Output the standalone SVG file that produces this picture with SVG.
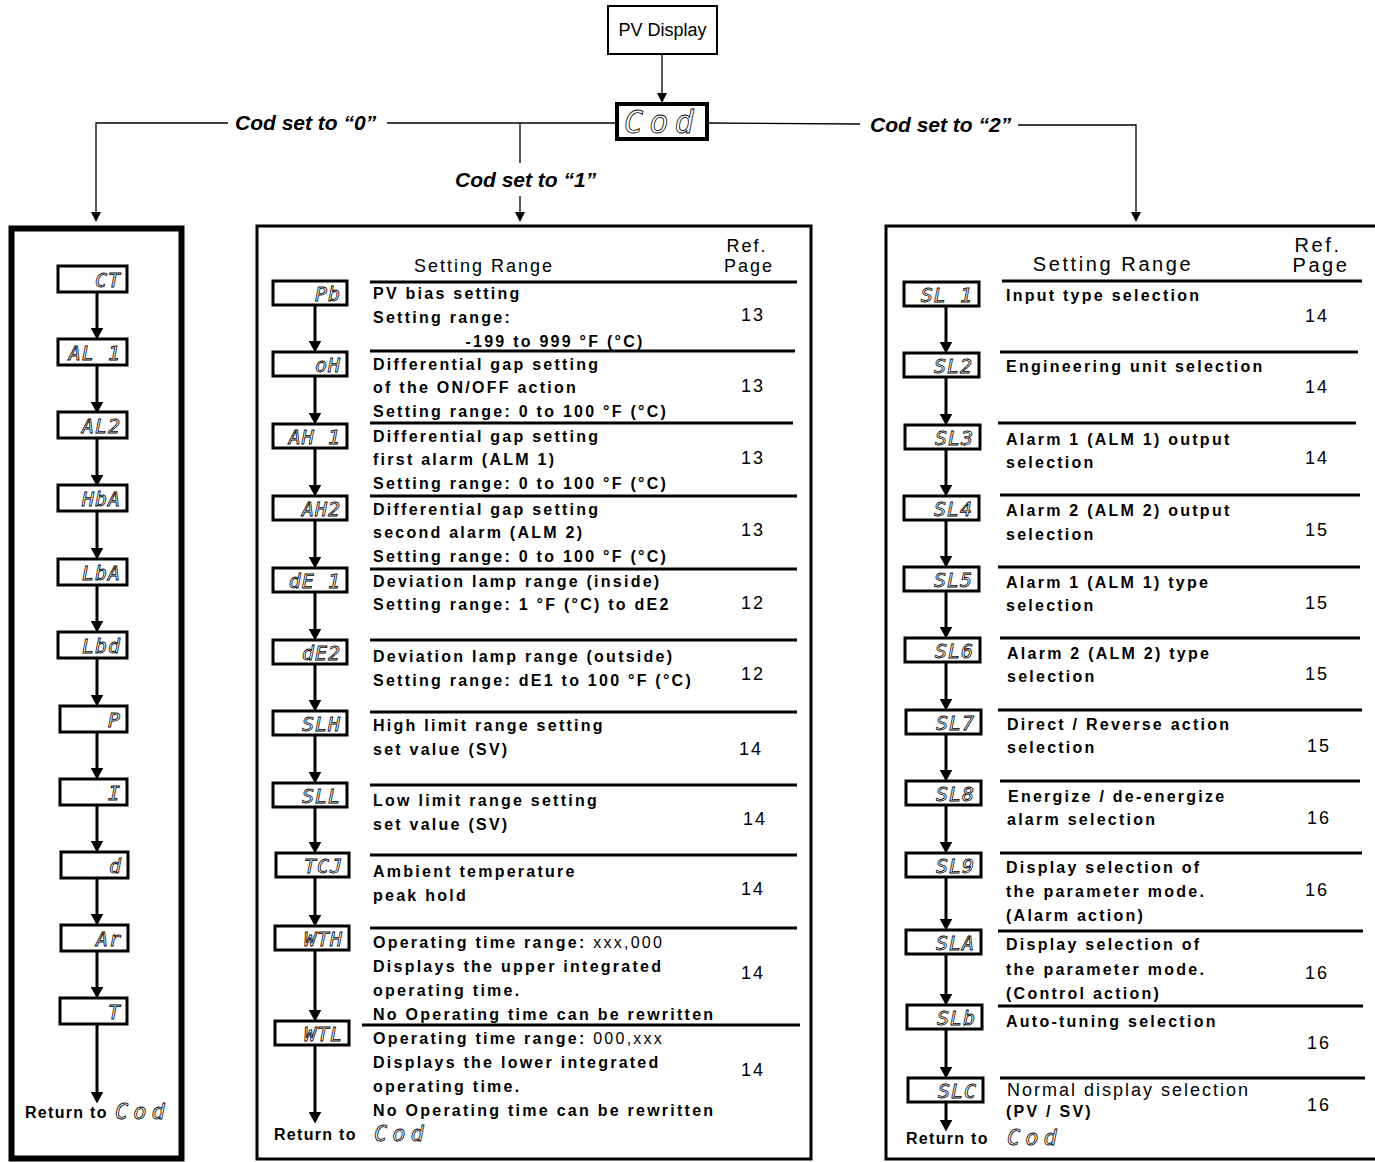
<svg xmlns="http://www.w3.org/2000/svg" width="1375" height="1162" viewBox="0 0 1375 1162">
<style>
.t{font-family:"Liberation Sans",Arial,sans-serif;font-weight:bold;font-size:16px;letter-spacing:2.25px;fill:#000}
.r{font-weight:normal}
.n{font-family:"Liberation Sans",Arial,sans-serif;font-size:18px;letter-spacing:2px;fill:#000}
.h{font-family:"Liberation Sans",Arial,sans-serif;font-size:18px;letter-spacing:2px;fill:#000}
.h2{font-family:"Liberation Sans",Arial,sans-serif;font-size:20px;letter-spacing:2.6px;fill:#000}
.lab{font-family:"Liberation Sans",Arial,sans-serif;font-weight:bold;font-style:italic;font-size:21px;fill:#000}
.seg{font-family:"DejaVu Sans Mono",monospace;font-style:oblique;font-size:20px;letter-spacing:1px;fill:#fff;stroke:#000;stroke-width:0.8;text-anchor:end}
.cod{font-family:"DejaVu Sans Mono",monospace;font-style:oblique;font-size:22px;letter-spacing:5px;fill:#fff;stroke:#000;stroke-width:0.8}
.box{fill:#fff;stroke:#000;stroke-width:3}
.panel{fill:none;stroke:#000;stroke-width:3}
.sep{stroke:#000;stroke-width:3}
.thin{fill:none;stroke:#000;stroke-width:1.3}
.thick{fill:none;stroke:#000;stroke-width:3}
</style>
<defs>
<marker id="ahT" viewBox="0 0 10 10" refX="2" refY="5" markerWidth="12" markerHeight="13" orient="auto" markerUnits="userSpaceOnUse" preserveAspectRatio="none"><path d="M0,0 L10,5 L0,10 z" fill="#000"/></marker>
<marker id="aht" viewBox="0 0 10 10" refX="2" refY="5" markerWidth="10" markerHeight="10" orient="auto" markerUnits="userSpaceOnUse" preserveAspectRatio="none"><path d="M0,0 L10,5 L0,10 z" fill="#000"/></marker>
</defs>
<rect width="1375" height="1162" fill="#fff"/>

<!-- top nodes -->
<g id="pv-display">
<rect x="608" y="6" width="109" height="48" fill="#fff" stroke="#000" stroke-width="2"/>
<text x="662.5" y="36" text-anchor="middle" font-family="Liberation Sans, Arial, sans-serif" font-size="18">PV Display</text>
</g>
<g id="cod">
<rect x="617" y="104" width="90" height="35" fill="#fff" stroke="#000" stroke-width="4"/>
<text class="cod" x="624" y="133" style="font-size:32px;letter-spacing:6px">Cod</text>
</g>

<!-- connectors -->
<g id="connectors">
<line class="thin" x1="662" y1="54" x2="662" y2="95" marker-end="url(#aht)"/>
<line class="thin" x1="617" y1="123" x2="387" y2="123"/>
<polyline class="thin" points="228,123 96,123 96,214" marker-end="url(#aht)"/>
<line class="thin" x1="520" y1="123" x2="520" y2="163"/>
<line class="thin" x1="520" y1="196" x2="520" y2="214" marker-end="url(#aht)"/>
<line class="thin" x1="707" y1="123" x2="860" y2="124"/>
<polyline class="thin" points="1018,125 1136,125 1136,214" marker-end="url(#aht)"/>
<g id="left-arrows">
<line class="thick" x1="97" y1="292" x2="97" y2="330" marker-end="url(#ahT)"/>
<line class="thick" x1="97" y1="365" x2="97" y2="404" marker-end="url(#ahT)"/>
<line class="thick" x1="97" y1="438" x2="97" y2="477" marker-end="url(#ahT)"/>
<line class="thick" x1="97" y1="511" x2="97" y2="550" marker-end="url(#ahT)"/>
<line class="thick" x1="97" y1="585" x2="97" y2="623" marker-end="url(#ahT)"/>
<line class="thick" x1="97" y1="658" x2="97" y2="697" marker-end="url(#ahT)"/>
<line class="thick" x1="97" y1="732" x2="97" y2="770" marker-end="url(#ahT)"/>
<line class="thick" x1="97" y1="805" x2="97" y2="843" marker-end="url(#ahT)"/>
<line class="thick" x1="97" y1="878" x2="97" y2="916" marker-end="url(#ahT)"/>
<line class="thick" x1="97" y1="951" x2="97" y2="989" marker-end="url(#ahT)"/>
<line class="thick" x1="97" y1="1024" x2="97" y2="1094" marker-end="url(#ahT)"/>
</g>
<g id="mid-arrows">
<line class="thick" x1="315" y1="305" x2="315" y2="343" marker-end="url(#ahT)"/>
<line class="thick" x1="315" y1="376" x2="315" y2="415" marker-end="url(#ahT)"/>
<line class="thick" x1="315" y1="448" x2="315" y2="487" marker-end="url(#ahT)"/>
<line class="thick" x1="315" y1="520" x2="315" y2="559" marker-end="url(#ahT)"/>
<line class="thick" x1="315" y1="592" x2="315" y2="631" marker-end="url(#ahT)"/>
<line class="thick" x1="315" y1="664" x2="315" y2="702" marker-end="url(#ahT)"/>
<line class="thick" x1="315" y1="735" x2="315" y2="774" marker-end="url(#ahT)"/>
<line class="thick" x1="315" y1="807" x2="315" y2="844" marker-end="url(#ahT)"/>
<line class="thick" x1="315" y1="877" x2="315" y2="917" marker-end="url(#ahT)"/>
<line class="thick" x1="315" y1="950" x2="315" y2="1012" marker-end="url(#ahT)"/>
<line class="thick" x1="315" y1="1045" x2="315" y2="1114" marker-end="url(#ahT)"/>
</g>
<g id="right-arrows">
<line class="thick" x1="946" y1="306" x2="946" y2="344" marker-end="url(#ahT)"/>
<line class="thick" x1="946" y1="377" x2="946" y2="416" marker-end="url(#ahT)"/>
<line class="thick" x1="946" y1="449" x2="946" y2="487" marker-end="url(#ahT)"/>
<line class="thick" x1="946" y1="520" x2="946" y2="558" marker-end="url(#ahT)"/>
<line class="thick" x1="946" y1="591" x2="946" y2="629" marker-end="url(#ahT)"/>
<line class="thick" x1="946" y1="662" x2="946" y2="701" marker-end="url(#ahT)"/>
<line class="thick" x1="946" y1="734" x2="946" y2="772" marker-end="url(#ahT)"/>
<line class="thick" x1="946" y1="805" x2="946" y2="844" marker-end="url(#ahT)"/>
<line class="thick" x1="946" y1="877" x2="946" y2="921" marker-end="url(#ahT)"/>
<line class="thick" x1="946" y1="954" x2="946" y2="996" marker-end="url(#ahT)"/>
<line class="thick" x1="946" y1="1029" x2="946" y2="1069" marker-end="url(#ahT)"/>
<line class="thick" x1="946" y1="1102" x2="946" y2="1122" marker-end="url(#ahT)"/>
</g>
</g>

<!-- branch labels -->
<g id="labels">
<text class="lab" x="235" y="130">Cod set to “0”</text>
<text class="lab" x="455" y="187">Cod set to “1”</text>
<text class="lab" x="870" y="132">Cod set to “2”</text>
</g>

<!-- left panel (Cod 0) -->
<g id="panel-0">
<rect x="11.5" y="228.5" width="170" height="930" fill="none" stroke="#000" stroke-width="6"/>
<g id="n-CT"><rect class="box" x="58" y="266" width="69" height="26"/><text class="seg" x="121" y="287">CT</text></g>
<g id="n-AL1"><rect class="box" x="58" y="339" width="69" height="26"/><text class="seg" x="121" y="360">AL 1</text></g>
<g id="n-AL2"><rect class="box" x="58" y="412" width="69" height="26"/><text class="seg" x="121" y="433">AL2</text></g>
<g id="n-HbA"><rect class="box" x="58" y="485" width="69" height="26"/><text class="seg" x="121" y="506">HbA</text></g>
<g id="n-LbA"><rect class="box" x="58" y="559" width="69" height="26"/><text class="seg" x="121" y="580">LbA</text></g>
<g id="n-Lbd"><rect class="box" x="58" y="632" width="69" height="26"/><text class="seg" x="121" y="653">Lbd</text></g>
<g id="n-P"><rect class="box" x="60" y="706" width="67" height="26"/><text class="seg" x="121" y="727">P</text></g>
<g id="n-I"><rect class="box" x="60" y="779" width="67" height="26"/><text class="seg" x="121" y="800">I</text></g>
<g id="n-d"><rect class="box" x="61" y="852" width="67" height="26"/><text class="seg" x="122" y="873">d</text></g>
<g id="n-Ar"><rect class="box" x="61" y="925" width="67" height="26"/><text class="seg" x="122" y="946">Ar</text></g>
<g id="n-T"><rect class="box" x="60" y="998" width="67" height="26"/><text class="seg" x="121" y="1019">T</text></g>
<g id="ret-0"><text class="t" x="25" y="1118" style="letter-spacing:1.3px">Return to</text><text class="cod" x="115" y="1119">Cod</text></g>
</g>

<!-- middle panel (Cod 1) -->
<g id="panel-1">
<rect class="panel" x="257" y="226" width="554" height="933"/>
<text class="h" x="484" y="272" text-anchor="middle">Setting Range</text>
<text class="h" x="747" y="252" text-anchor="middle">Ref.</text>
<text class="h" x="749" y="272" text-anchor="middle">Page</text>
<line class="sep" x1="370" y1="282" x2="797" y2="282"/>
<line class="sep" x1="370" y1="351" x2="795" y2="351"/>
<line class="sep" x1="370" y1="423" x2="793" y2="423"/>
<line class="sep" x1="370" y1="496" x2="797" y2="496"/>
<line class="sep" x1="370" y1="569" x2="797" y2="569"/>
<line class="sep" x1="370" y1="640" x2="797" y2="640"/>
<line class="sep" x1="370" y1="712" x2="797" y2="712"/>
<line class="sep" x1="370" y1="785" x2="797" y2="785"/>
<line class="sep" x1="370" y1="855" x2="797" y2="855"/>
<line class="sep" x1="370" y1="928" x2="797" y2="928"/>
<line class="sep" x1="362" y1="1025" x2="800" y2="1025"/>

<g id="n-Pb"><rect class="box" x="273" y="281" width="74" height="24"/><text class="seg" x="341" y="301">Pb</text>
<text class="t" x="373" y="299">PV bias setting</text><text class="t" x="373" y="323">Setting range:</text><text class="t" x="555" y="347" text-anchor="middle">-199 to 999 °F (°C)</text><text class="n" x="753" y="321" text-anchor="middle">13</text></g>
<g id="n-oH"><rect class="box" x="273" y="352" width="74" height="24"/><text class="seg" x="341" y="372">oH</text>
<text class="t" x="373" y="370">Differential gap setting</text><text class="t" x="373" y="393">of the ON/OFF action</text><text class="t" x="373" y="417">Setting range: 0 to 100 °F (°C)</text><text class="n" x="753" y="392" text-anchor="middle">13</text></g>
<g id="n-AH1"><rect class="box" x="273" y="424" width="74" height="24"/><text class="seg" x="341" y="444">AH 1</text>
<text class="t" x="373" y="442">Differential gap setting</text><text class="t" x="373" y="465">first alarm (ALM 1)</text><text class="t" x="373" y="489">Setting range: 0 to 100 °F (°C)</text><text class="n" x="753" y="464" text-anchor="middle">13</text></g>
<g id="n-AH2"><rect class="box" x="273" y="496" width="74" height="24"/><text class="seg" x="341" y="516">AH2</text>
<text class="t" x="373" y="515">Differential gap setting</text><text class="t" x="373" y="538">second alarm (ALM 2)</text><text class="t" x="373" y="562">Setting range: 0 to 100 °F (°C)</text><text class="n" x="753" y="536" text-anchor="middle">13</text></g>
<g id="n-dE1"><rect class="box" x="273" y="568" width="74" height="24"/><text class="seg" x="341" y="588">dE 1</text>
<text class="t" x="373" y="587">Deviation lamp range (inside)</text><text class="t" x="373" y="610">Setting range: 1 °F (°C) to dE2</text><text class="n" x="753" y="609" text-anchor="middle">12</text></g>
<g id="n-dE2"><rect class="box" x="273" y="640" width="74" height="24"/><text class="seg" x="341" y="660">dE2</text>
<text class="t" x="373" y="662">Deviation lamp range (outside)</text><text class="t" x="373" y="686">Setting range: dE1 to 100 °F (°C)</text><text class="n" x="753" y="680" text-anchor="middle">12</text></g>
<g id="n-SLH"><rect class="box" x="273" y="711" width="74" height="24"/><text class="seg" x="341" y="731">SLH</text>
<text class="t" x="373" y="731">High limit range setting</text><text class="t" x="373" y="755">set value (SV)</text><text class="n" x="751" y="755" text-anchor="middle">14</text></g>
<g id="n-SLL"><rect class="box" x="273" y="783" width="74" height="24"/><text class="seg" x="341" y="803">SLL</text>
<text class="t" x="373" y="806">Low limit range setting</text><text class="t" x="373" y="830">set value (SV)</text><text class="n" x="755" y="825" text-anchor="middle">14</text></g>
<g id="n-TCJ"><rect class="box" x="276" y="853" width="73" height="24"/><text class="seg" x="343" y="873">TCJ</text>
<text class="t" x="373" y="877">Ambient temperature</text><text class="t" x="373" y="901">peak hold</text><text class="n" x="753" y="895" text-anchor="middle">14</text></g>
<g id="n-WTH"><rect class="box" x="275" y="926" width="74" height="24"/><text class="seg" x="343" y="946">WTH</text>
<text class="t" x="373" y="948">Operating time range: <tspan class="r">xxx,000</tspan></text><text class="t" x="373" y="972">Displays the upper integrated</text><text class="t" x="373" y="996">operating time.</text><text class="t" x="373" y="1020">No Operating time can be rewritten</text><text class="n" x="753" y="979" text-anchor="middle">14</text></g>
<g id="n-WTL"><rect class="box" x="275" y="1021" width="74" height="24"/><text class="seg" x="343" y="1041">WTL</text>
<text class="t" x="373" y="1044">Operating time range: <tspan class="r">000,xxx</tspan></text><text class="t" x="373" y="1068">Displays the lower integrated</text><text class="t" x="373" y="1092">operating time.</text><text class="t" x="373" y="1116">No Operating time can be rewritten</text><text class="n" x="753" y="1076" text-anchor="middle">14</text></g>
<g id="ret-1"><text class="t" x="274" y="1140" style="letter-spacing:1.3px">Return to</text><text class="cod" x="374" y="1141">Cod</text></g>
</g>

<!-- right panel (Cod 2) -->
<g id="panel-2">
<rect class="panel" x="886" y="226" width="495" height="933"/>
<text class="h2" x="1113" y="271" text-anchor="middle">Setting Range</text>
<text class="h2" x="1318" y="252" text-anchor="middle">Ref.</text>
<text class="h2" x="1321" y="272" text-anchor="middle">Page</text>
<line class="sep" x1="1002" y1="281" x2="1362" y2="281"/>
<line class="sep" x1="1000" y1="352" x2="1358" y2="352"/>
<line class="sep" x1="998" y1="423" x2="1356" y2="423"/>
<line class="sep" x1="1000" y1="495" x2="1360" y2="495"/>
<line class="sep" x1="998" y1="567" x2="1360" y2="567"/>
<line class="sep" x1="1000" y1="638" x2="1360" y2="638"/>
<line class="sep" x1="998" y1="710" x2="1362" y2="710"/>
<line class="sep" x1="1000" y1="781" x2="1360" y2="781"/>
<line class="sep" x1="1000" y1="853" x2="1362" y2="853"/>
<line class="sep" x1="998" y1="931" x2="1363" y2="931"/>
<line class="sep" x1="998" y1="1006" x2="1363" y2="1006"/>
<line class="sep" x1="1000" y1="1078" x2="1365" y2="1078"/>

<g id="n-SL1"><rect class="box" x="904" y="282" width="75" height="24"/><text class="seg" x="973" y="302">SL 1</text>
<text class="t" x="1006" y="301">Input type selection</text><text class="n" x="1317" y="322" text-anchor="middle">14</text></g>
<g id="n-SL2"><rect class="box" x="904" y="353" width="75" height="24"/><text class="seg" x="973" y="373">SL2</text>
<text class="t" x="1006" y="372">Engineering unit selection</text><text class="n" x="1317" y="393" text-anchor="middle">14</text></g>
<g id="n-SL3"><rect class="box" x="905" y="425" width="75" height="24"/><text class="seg" x="974" y="445">SL3</text>
<text class="t" x="1006" y="445">Alarm 1 (ALM 1) output</text><text class="t" x="1006" y="468">selection</text><text class="n" x="1317" y="464" text-anchor="middle">14</text></g>
<g id="n-SL4"><rect class="box" x="904" y="496" width="75" height="24"/><text class="seg" x="973" y="516">SL4</text>
<text class="t" x="1006" y="516">Alarm 2 (ALM 2) output</text><text class="t" x="1006" y="540">selection</text><text class="n" x="1317" y="536" text-anchor="middle">15</text></g>
<g id="n-SL5"><rect class="box" x="904" y="567" width="75" height="24"/><text class="seg" x="973" y="587">SL5</text>
<text class="t" x="1006" y="588">Alarm 1 (ALM 1) type</text><text class="t" x="1006" y="611">selection</text><text class="n" x="1317" y="609" text-anchor="middle">15</text></g>
<g id="n-SL6"><rect class="box" x="905" y="638" width="75" height="24"/><text class="seg" x="974" y="658">SL6</text>
<text class="t" x="1007" y="659">Alarm 2 (ALM 2) type</text><text class="t" x="1007" y="682">selection</text><text class="n" x="1317" y="680" text-anchor="middle">15</text></g>
<g id="n-SL7"><rect class="box" x="906" y="710" width="75" height="24"/><text class="seg" x="975" y="730">SL7</text>
<text class="t" x="1007" y="730">Direct / Reverse action</text><text class="t" x="1007" y="753">selection</text><text class="n" x="1319" y="752" text-anchor="middle">15</text></g>
<g id="n-SL8"><rect class="box" x="906" y="781" width="75" height="24"/><text class="seg" x="975" y="801">SL8</text>
<text class="t" x="1008" y="802">Energize / de-energize</text><text class="t" x="1007" y="825">alarm selection</text><text class="n" x="1319" y="824" text-anchor="middle">16</text></g>
<g id="n-SL9"><rect class="box" x="906" y="853" width="75" height="24"/><text class="seg" x="975" y="873">SL9</text>
<text class="t" x="1006" y="873">Display selection of</text><text class="t" x="1006" y="897">the parameter mode.</text><text class="t" x="1006" y="921">(Alarm action)</text><text class="n" x="1317" y="896" text-anchor="middle">16</text></g>
<g id="n-SLA"><rect class="box" x="906" y="930" width="75" height="24"/><text class="seg" x="975" y="950">SLA</text>
<text class="t" x="1006" y="950">Display selection of</text><text class="t" x="1006" y="975">the parameter mode.</text><text class="t" x="1006" y="999">(Control action)</text><text class="n" x="1317" y="979" text-anchor="middle">16</text></g>
<g id="n-SLb"><rect class="box" x="907" y="1005" width="75" height="24"/><text class="seg" x="976" y="1025">SLb</text>
<text class="t" x="1006" y="1027">Auto-tuning selection</text><text class="n" x="1319" y="1049" text-anchor="middle">16</text></g>
<g id="n-SLC"><rect class="box" x="908" y="1078" width="75" height="24"/><text class="seg" x="977" y="1098">SLC</text>
<text class="n" x="1007" y="1096">Normal display selection</text><text class="t" x="1006" y="1117">(PV / SV)</text><text class="n" x="1319" y="1111" text-anchor="middle">16</text></g>
<g id="ret-2"><text class="t" x="906" y="1144" style="letter-spacing:1.3px">Return to</text><text class="cod" x="1007" y="1145">Cod</text></g>
</g>
</svg>
